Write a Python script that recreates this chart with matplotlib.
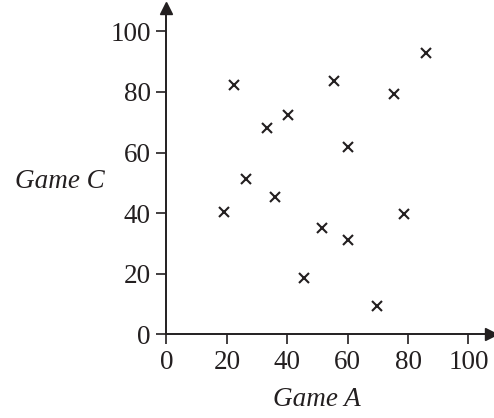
import numpy as np
import matplotlib.pyplot as plt

# scores
game_a = [19.0, 22.5, 26.4, 33.4, 36.0, 40.1, 45.4, 51.6, 55.5, 60.0, 60.2, 69.7, 75.4, 78.6, 86.0]
game_c = [40.3, 82.2, 51.2, 68.2, 45.4, 72.4, 18.5, 35.2, 83.6, 61.7, 31.2, 9.3, 79.2, 39.7, 92.9]
ticks = [0, 20, 40, 60, 80, 100]

plt.rcParams['font.family'] = ['Liberation Serif', 'DejaVu Serif']

fig = plt.figure(figsize=(4.94, 4.18), dpi=100)
ax = fig.add_axes([0.337, 0.2002, 0.657, 0.7807])

ax.plot(game_a, game_c, 'x', color='#231f20', markersize=7, mew=1.5)

ax.set_xlim(0, 107.5)
ax.set_ylim(0, 107.7)
ax.set_xticks(ticks)
ax.set_yticks(ticks)
ax.tick_params(direction='out', length=7.2, width=1.2, pad=4, labelsize=19.5, color='#231f20', labelcolor='#231f20')

for s in ['top', 'right']:
    ax.spines[s].set_visible(False)
for s in ['left', 'bottom']:
    ax.spines[s].set_linewidth(1.4)
    ax.spines[s].set_color('#231f20')

# arrow heads on the axes
ax.plot(1, 0, '>', color='#231f20', markersize=8, transform=ax.get_yaxis_transform(), clip_on=False)
ax.plot(0, 1, '^', color='#231f20', markersize=8, transform=ax.get_xaxis_transform(), clip_on=False)

ax.set_xlabel('Game A', fontsize=19.5, style='italic', color='#231f20', va='center')
ax.set_ylabel('Game C', fontsize=19.5, style='italic', color='#231f20', rotation=0, ha='center', va='center')
ax.xaxis.set_label_coords(0.4636, -0.201)
ax.yaxis.set_label_coords(-0.328, 0.467)

fig.savefig('out.png', dpi=100)
